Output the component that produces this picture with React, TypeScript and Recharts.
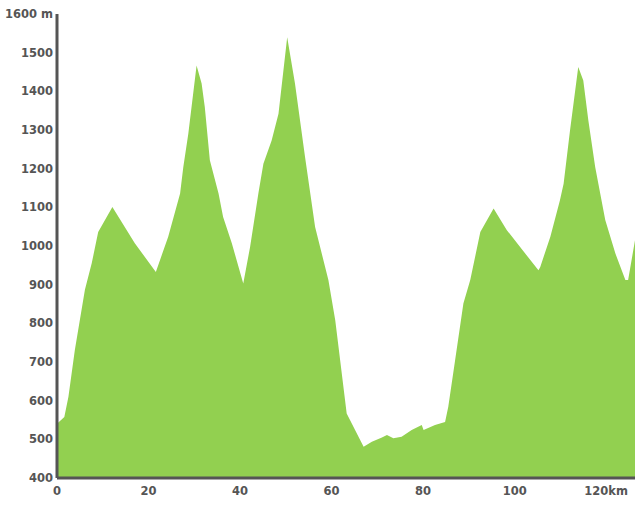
import { Area, AreaChart, XAxis, YAxis } from "recharts";

// distance along the route (km) and elevation (m)
const distanceKm = [
  0, 1.6, 2.5, 3.9, 6.1, 7.6, 9.0, 12.1, 17.0, 21.6, 24.3, 26.9, 27.6, 28.7,
  30.5, 31.6, 32.3, 33.4, 35.3, 36.3, 38.2, 40.7, 42.2, 44.0, 45.1, 46.9, 48.4,
  50.3, 52.0, 54.2, 56.4, 59.3, 60.8, 63.3, 67.0, 68.8, 71.0, 72.1, 73.5, 75.3,
  77.5, 79.7, 80.1, 82.6, 84.8, 85.5, 87.0, 88.8, 90.3, 92.5, 95.4, 98.3, 105.2,
  105.6, 107.8, 109.9, 110.7, 112.1, 113.9, 115.0, 116.1, 117.6, 119.8, 122.0,
  124.2, 124.8, 126.3,
];
const elevationM = [
  540, 558, 610, 731, 887, 956, 1036, 1101, 1007, 933, 1024, 1136, 1204, 1291,
  1467, 1420, 1359, 1222, 1136, 1075, 1007, 903, 998, 1136, 1213, 1273, 1342,
  1540, 1420, 1230, 1049, 912, 808, 567, 481, 494, 505, 511, 503, 507, 524, 537,
  524, 537, 545, 584, 705, 851, 912, 1036, 1097, 1041, 937, 946, 1024, 1118, 1161,
  1299, 1463, 1428, 1325, 1204, 1067, 981, 912, 912, 1015,
];
const xTicks = [0, 20, 40, 60, 80, 100, 120];
const yTicks = [400, 500, 600, 700, 800, 900, 1000, 1100, 1200, 1300, 1400, 1500, 1600];

const data = distanceKm.map((km, i) => ({ km, elev: elevationM[i] }));

const tickStyle = {
  fill: "#555",
  fontSize: 11.5,
  fontWeight: "bold" as const,
  fontFamily: "DejaVu Sans, Verdana, sans-serif",
};

export default function App() {
  return (
    <div style={{ position: "absolute", left: 0, top: 0, background: "#fff" }}>
      <AreaChart
        width={635}
        height={530}
        data={data}
        margin={{ top: 14, right: 0, left: 0, bottom: 0 }}
      >
        <Area
          type="linear"
          dataKey="elev"
          stroke="none"
          fill="#92d050"
          fillOpacity={1}
          isAnimationActive={false}
        />
        <XAxis
          dataKey="km"
          type="number"
          domain={[0, 126.3]}
          ticks={xTicks}
          height={52}
          tickLine={false}
          tickSize={0}
          tickMargin={9}
          stroke="#555"
          strokeWidth={3}
          tick={tickStyle}
          tickFormatter={(v) => (v === 120 ? "120km" : String(v))}
          allowDataOverflow
        />
        <YAxis
          type="number"
          domain={[400, 1600]}
          ticks={yTicks}
          width={57}
          tickLine={false}
          tickSize={0}
          tickMargin={4}
          stroke="#555"
          strokeWidth={3}
          tick={tickStyle}
          tickFormatter={(v) => (v === 1600 ? "1600 m" : String(v))}
          allowDataOverflow
        />
      </AreaChart>
    </div>
  );
}
